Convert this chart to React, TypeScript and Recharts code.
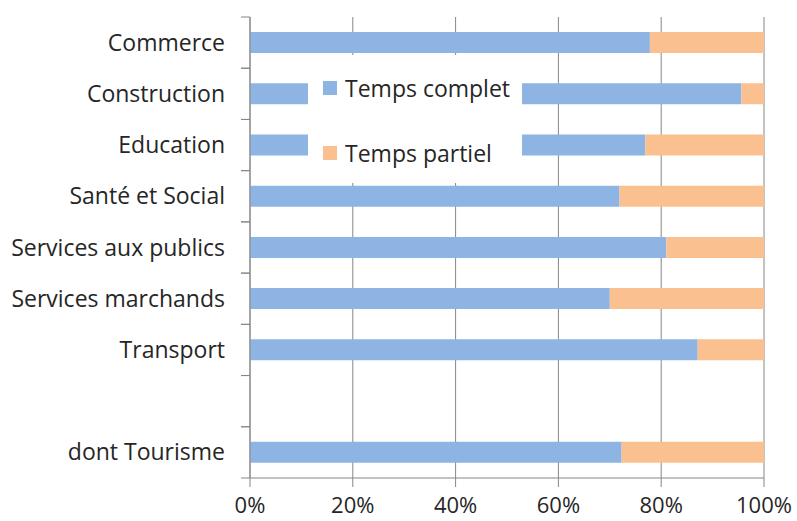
import { BarChart, Bar, XAxis, YAxis, CartesianGrid } from 'recharts'

const categories = [
  'Commerce',
  'Construction',
  'Education',
  'Santé et Social',
  'Services aux publics',
  'Services marchands',
  'Transport',
  '',
  'dont Tourisme',
]
const tempsComplet = [77.8, 95.6, 76.9, 71.9, 81, 70, 87.1, null, 72.3]
const tempsPartiel = [22.2, 4.4, 23.1, 28.1, 19, 30, 12.9, null, 27.7]
const xTicks = [0, 20, 40, 60, 80, 100]

const data = categories.map((name, i) => ({
  name,
  complet: tempsComplet[i],
  partiel: tempsPartiel[i],
}))

const FONT = '"Open Sans", Arial, sans-serif'
const AXIS_X = 250
const TOP = 17
const BOTTOM = 478
const BAND = (BOTTOM - TOP) / categories.length

// category labels + short ticks on the category boundaries (Excel style)
const CategoryTick = ({ x, y, payload }: any) => (
  <g>
    <line x1={AXIS_X - 9} x2={AXIS_X} y1={y - BAND / 2} y2={y - BAND / 2} stroke="#868686" />
    <line x1={AXIS_X - 9} x2={AXIS_X} y1={y + BAND / 2} y2={y + BAND / 2} stroke="#868686" />
    <text x={AXIS_X - 25} y={y} dy={8} textAnchor="end" fill="#262626" fontSize={23} fontFamily={FONT}>
      {payload.value}
    </text>
  </g>
)

const LegendBox = () => {
  const row = { position: 'absolute', left: 15, height: 30, lineHeight: '30px', display: 'flex', alignItems: 'center', whiteSpace: 'nowrap' } as const
  return (
    <div
      style={{
        position: 'absolute',
        left: 308,
        top: 55,
        background: '#fff',
        width: 214,
        height: 128,
        fontFamily: FONT,
        fontSize: 23,
        color: '#262626',
      }}
    >
      <div style={{ ...row, top: 18 }}>
        <span style={{ width: 14, height: 14, background: '#8EB4E3', marginRight: 8 }} />
        Temps complet
      </div>
      <div style={{ ...row, top: 83 }}>
        <span style={{ width: 14, height: 14, background: '#FAC090', marginRight: 8 }} />
        Temps partiel
      </div>
    </div>
  )
}

export default function App() {
  return (
    <div style={{ position: 'absolute', left: 0, top: 0, width: 797, height: 521, background: '#fff', overflow: 'hidden' }}>
      <BarChart
        width={797}
        height={521}
        data={data}
        layout="vertical"
        margin={{ top: TOP, right: 33, bottom: 0, left: 0 }}
        barSize={21}
      >
        <CartesianGrid horizontal={false} stroke="#868686" strokeWidth={1} />
        <XAxis
          type="number"
          domain={[0, 100]}
          ticks={xTicks}
          tickFormatter={(v: number) => `${v}%`}
          height={521 - BOTTOM}
          axisLine={{ stroke: '#868686' }}
          tickLine={{ stroke: '#868686' }}
          tickSize={9}
          tickMargin={10}
          tick={{ fill: '#262626', fontSize: 22, fontFamily: FONT }}
          interval={0}
        />
        <YAxis
          type="category"
          dataKey="name"
          width={AXIS_X}
          axisLine={{ stroke: '#868686' }}
          tickLine={false}
          tick={<CategoryTick />}
          interval={0}
        />
        <Bar dataKey="complet" stackId="a" fill="#8EB4E3" isAnimationActive={false} />
        <Bar dataKey="partiel" stackId="a" fill="#FAC090" isAnimationActive={false} />
      </BarChart>
      <LegendBox />
    </div>
  )
}
